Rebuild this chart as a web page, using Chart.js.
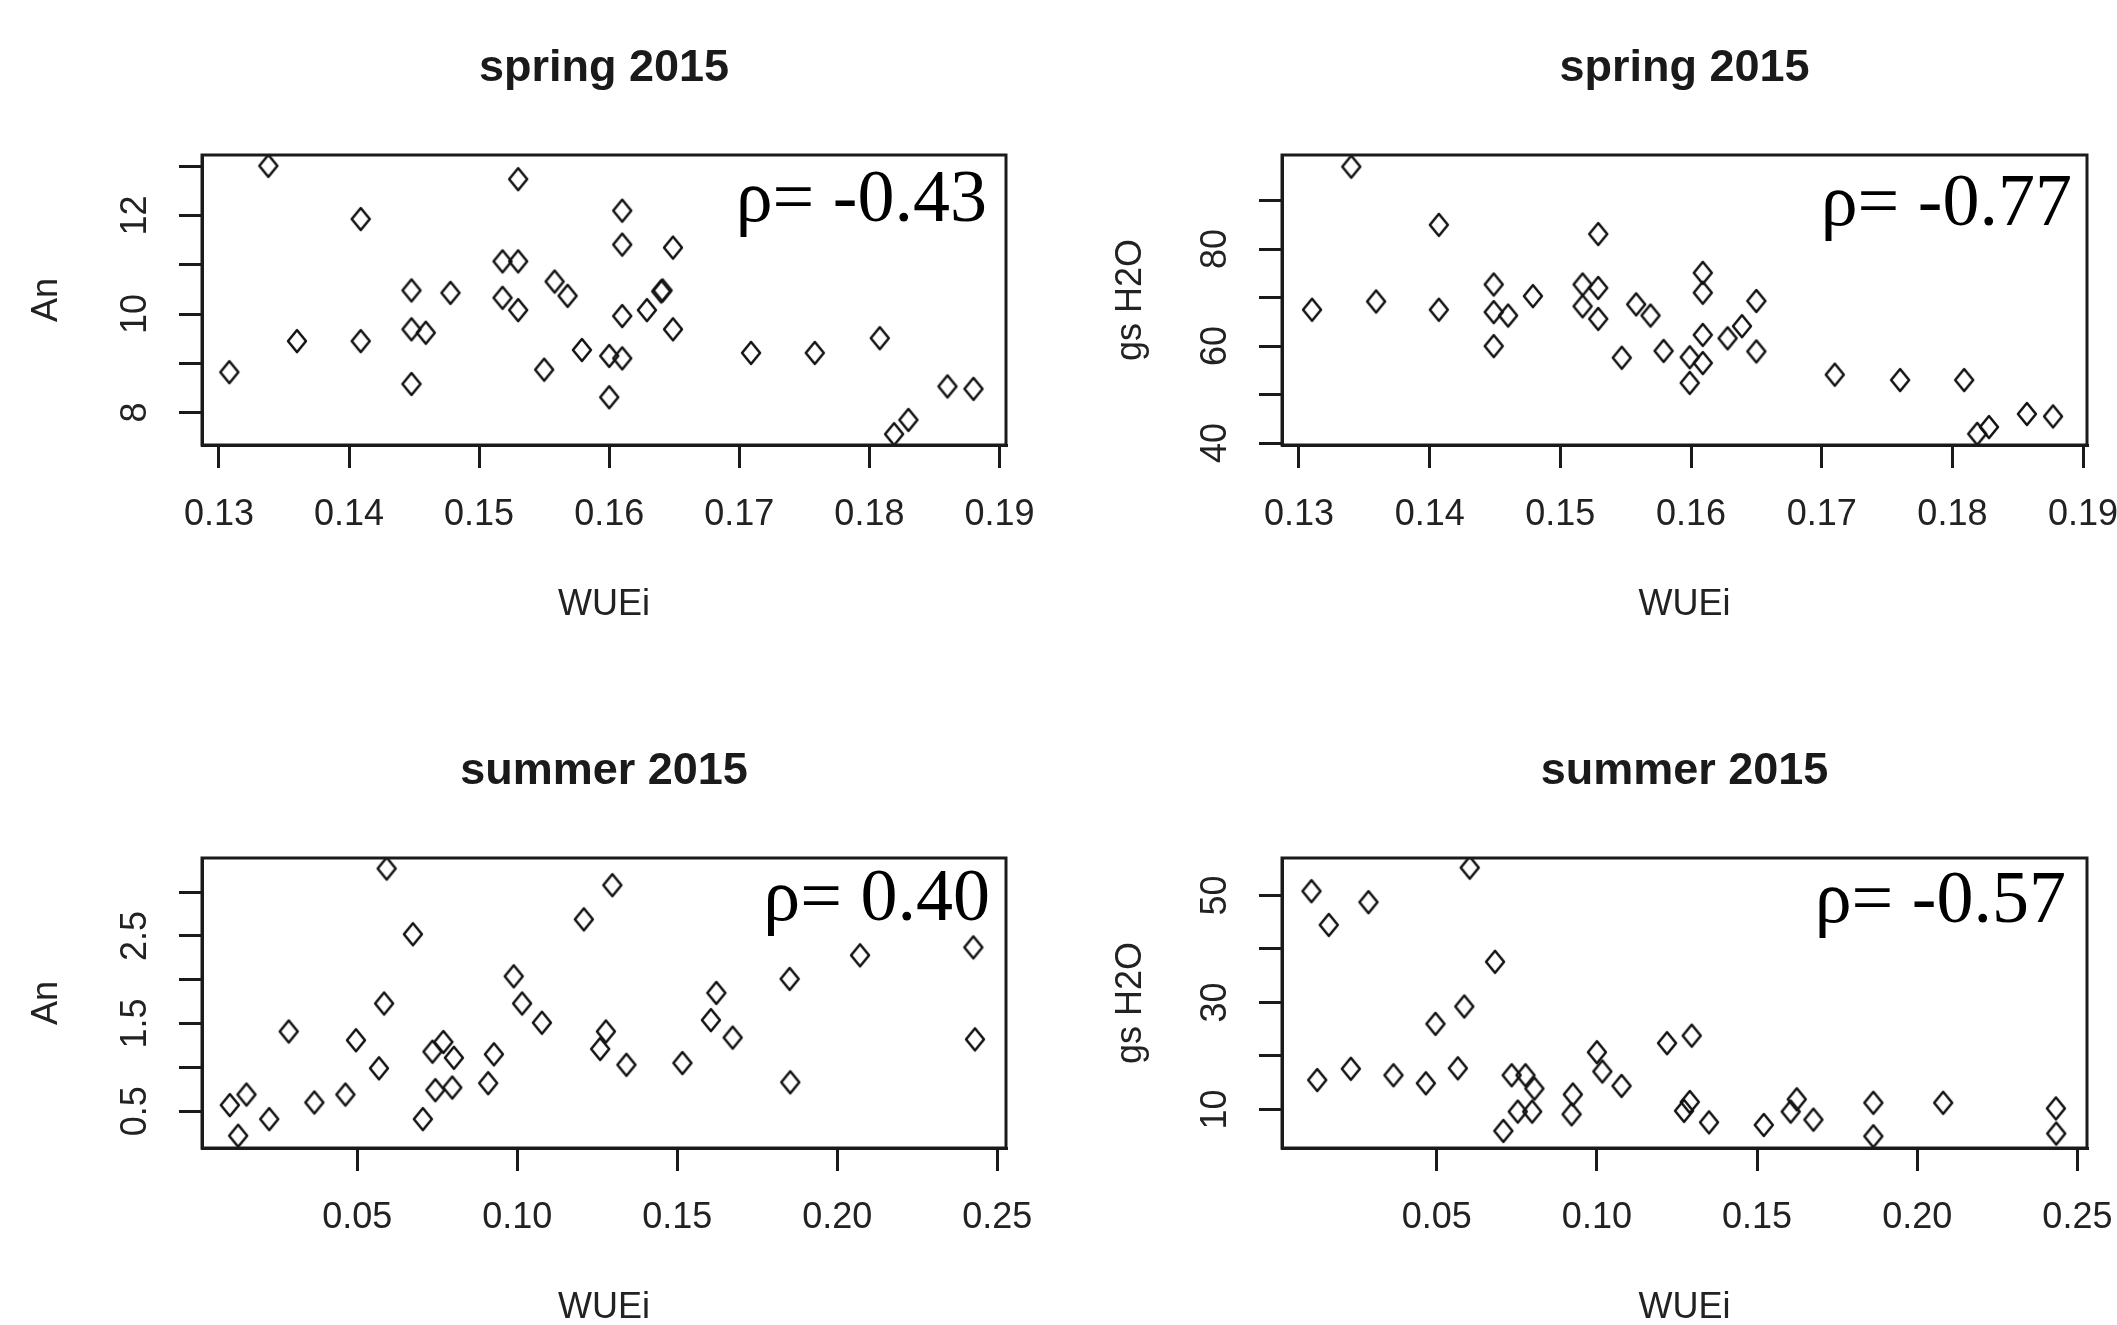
<!DOCTYPE html>
<html><head><meta charset="utf-8">
<script src="https://cdn.jsdelivr.net/npm/chart.js@4.4.0/dist/chart.umd.min.js"></script>
<style>
html,body{margin:0;padding:0;background:#fff;overflow:hidden;width:2117px;height:1325px;}
canvas{position:absolute;}
</style></head><body>
<canvas id="c1"></canvas><canvas id="c2"></canvas><canvas id="c3"></canvas><canvas id="c4"></canvas>
<script>
// ---- data ----
const springTitle = 'spring 2015';
const summerTitle = 'summer 2015';
const xTitle = 'WUEi';
const anTitle = 'An';
const gsTitle = 'gs H2O';

const springXTickLabels = ['0.13','0.14','0.15','0.16','0.17','0.18','0.19'];
const summerXTickLabels = ['0.05','0.10','0.15','0.20','0.25'];

const anSpringYTicks = [8,9,10,11,12,13];
const anSpringYLabels = ['8','','10','','12',''];
const gsSpringYTicks = [40,50,60,70,80,90];
const gsSpringYLabels = ['40','','60','','80',''];
const anSummerYTicks = [0.5,1.0,1.5,2.0,2.5,3.0];
const anSummerYLabels = ['0.5','','1.5','','2.5',''];
const gsSummerYTicks = [10,20,30,40,50];
const gsSummerYLabels = ['10','','30','','50'];

const rhoLabels = ['\u03c1= -0.43','\u03c1= -0.77','\u03c1= 0.40','\u03c1= -0.57'];

const springAnX = [0.1308,0.1338,0.1360,0.1409,0.1409,0.1448,0.1448,0.1459,0.1448,0.1478,0.1518,0.1530,0.1518,0.1530,0.1530,0.1558,0.1568,0.1550,0.1579,0.1600,0.1610,0.1600,0.1610,0.1610,0.1610,0.1629,0.1640,0.1641,0.1649,0.1649,0.1709,0.1758,0.1808,0.1819,0.1830,0.1860,0.1880];
const springAnY = [8.82,13.01,9.45,11.93,9.45,10.48,9.69,9.62,8.58,10.43,11.07,11.07,10.33,10.08,12.74,10.66,10.37,8.87,9.27,9.15,9.10,8.31,12.10,11.41,9.96,10.08,10.46,10.48,11.35,9.69,9.21,9.21,9.51,7.56,7.85,8.53,8.48];

const springGsX = [0.1310,0.1340,0.1359,0.1407,0.1407,0.1449,0.1449,0.1460,0.1449,0.1479,0.1517,0.1529,0.1517,0.1529,0.1529,0.1558,0.1569,0.1547,0.1579,0.1599,0.1609,0.1599,0.1609,0.1609,0.1609,0.1628,0.1639,0.1650,0.1650,0.1710,0.1760,0.1809,0.1819,0.1828,0.1857,0.1877];
const springGsY = [67.5,97.0,69.2,85.0,67.5,72.7,67.0,66.3,60.0,70.3,72.7,72.0,68.2,65.6,83.1,68.6,66.3,57.6,59.0,57.7,56.5,52.4,75.1,71.0,62.3,61.6,64.1,69.3,58.9,54.1,53.0,53.0,41.9,43.3,46.0,45.5];

const summerAnX = [0.0102,0.0154,0.0128,0.0225,0.0286,0.0366,0.0463,0.0496,0.0568,0.0584,0.0592,0.0674,0.0705,0.0735,0.0769,0.0744,0.0797,0.0802,0.0909,0.0927,0.0989,0.1015,0.1077,0.1208,0.1297,0.1277,0.1259,0.1341,0.1516,0.1605,0.1622,0.1673,0.1851,0.1853,0.2071,0.2425,0.2430];
const summerAnY = [0.57,0.69,0.22,0.41,1.41,0.60,0.69,1.31,0.99,1.73,3.27,2.52,0.41,1.18,1.29,0.74,0.77,1.11,0.82,1.15,2.04,1.73,1.51,2.69,3.08,1.41,1.21,1.03,1.05,1.54,1.85,1.34,2.01,0.83,2.28,2.37,1.32];

const summerGsX = [0.0109,0.0163,0.0127,0.0232,0.0287,0.0365,0.0466,0.0496,0.0566,0.0586,0.0603,0.0682,0.0708,0.0734,0.0777,0.0805,0.0753,0.0798,0.0921,0.0925,0.1000,0.1017,0.1077,0.1219,0.1296,0.1290,0.1272,0.1350,0.1521,0.1605,0.1624,0.1676,0.1863,0.1863,0.2081,0.2433,0.2434];
const summerGsY = [50.8,44.5,15.5,17.6,48.75,16.4,14.9,26.0,17.7,29.25,55.2,37.6,6.0,16.4,16.4,13.9,9.6,9.6,9.1,12.8,20.7,17.1,14.4,22.4,23.8,11.4,9.75,7.6,7.1,9.6,11.9,8.1,11.25,5.0,11.25,10.2,5.5];

// ---- layout / style ----
const INK = '#1a1a1a';
const SANS = '"Liberation Sans", Arial, sans-serif';
const SERIF = '"Liberation Serif", "Times New Roman", serif';
const TICK_FONT = 36;
const AXIS_LEFT = 202, PAD_TOP = 155, PAD_RIGHT = 70, XAXIS_H = 182;

const measure = document.createElement('canvas').getContext('2d');
measure.font = TICK_FONT + 'px ' + SANS;

// marker: open diamond, slightly taller than wide, rounded joins
const marker = document.createElement('canvas');
marker.width = 24; marker.height = 28;
(function () {
  const m = marker.getContext('2d');
  m.strokeStyle = '#111';
  m.lineWidth = 2.5;
  m.lineJoin = 'round';
  m.beginPath();
  m.moveTo(12, 3); m.lineTo(21, 14); m.lineTo(12, 25); m.lineTo(3, 14); m.closePath();
  m.stroke();
})();

const panels = [
  {id:'c1', box:{l:202,t:155,r:1006,b:445}, xs:springAnX, ys:springAnY, xr:[0.1287,0.1905], yr:[7.34,13.23],
   xLabels:springXTickLabels, yTicks:anSpringYTicks, yLabels:anSpringYLabels, title:springTitle, yTitle:anTitle, yTitleCenter:47,
   rho:rhoLabels[0], rhoDx:19, rhoDy:66},
  {id:'c2', box:{l:1282,t:155,r:2087,b:445}, xs:springGsX, ys:springGsY, xr:[0.1287,0.1903], yr:[39.6,99.4],
   xLabels:springXTickLabels, yTicks:gsSpringYTicks, yLabels:gsSpringYLabels, title:springTitle, yTitle:gsTitle, yTitleCenter:51,
   rho:rhoLabels[1], rhoDx:15, rhoDy:70},
  {id:'c3', box:{l:202,t:858,r:1006,b:1148}, xs:summerAnX, ys:summerAnY, xr:[0.0015,0.2527], yr:[0.08,3.39],
   xLabels:summerXTickLabels, yTicks:anSummerYTicks, yLabels:anSummerYLabels, title:summerTitle, yTitle:anTitle, yTitleCenter:47,
   rho:rhoLabels[2], rhoDx:16, rhoDy:62},
  {id:'c4', box:{l:1282,t:858,r:2087,b:1148}, xs:summerGsX, ys:summerGsY, xr:[0.0017,0.2530], yr:[2.8,57.0],
   xLabels:summerXTickLabels, yTicks:gsSummerYTicks, yLabels:gsSummerYLabels, title:summerTitle, yTitle:gsTitle, yTitleCenter:51,
   rho:rhoLabels[3], rhoDx:21, rhoDy:64}
];

const decorPlugin = {
  id: 'decor',
  afterDraw(chart, args, opts) {
    const {ctx, chartArea: a} = chart;
    ctx.save();
    ctx.strokeStyle = INK;
    ctx.lineWidth = 3;
    ctx.strokeRect(a.left, a.top, a.right - a.left, a.bottom - a.top);
    ctx.fillStyle = INK;
    ctx.textBaseline = 'alphabetic';
    ctx.textAlign = 'center';
    ctx.font = 'bold 45px ' + SANS;
    ctx.fillText(opts.title, (a.left + a.right) / 2, a.top - 74);
    ctx.fillStyle = '#000';
    ctx.textAlign = 'right';
    ctx.font = '74px ' + SERIF;
    ctx.fillText(opts.rho, a.right - opts.rhoDx, a.top + opts.rhoDy);
    ctx.restore();
  }
};

panels.forEach(p => {
  const cv = document.getElementById(p.id);
  const W = p.box.r - p.box.l + AXIS_LEFT + PAD_RIGHT;
  const H = p.box.b - p.box.t + PAD_TOP + XAXIS_H;
  cv.width = W; cv.height = H;
  cv.style.left = (p.box.l - AXIS_LEFT) + 'px';
  cv.style.top = (p.box.t - PAD_TOP) + 'px';
  cv.style.width = W + 'px'; cv.style.height = H + 'px';

  const xVals = p.xLabels.map(Number);
  const widest = Math.max(...p.yLabels.map(s => measure.measureText(s).width));
  const yPad = 43 - widest / 2;

  new Chart(cv, {
    type: 'scatter',
    data: {
      datasets: [{
        data: p.xs.map((x, i) => ({x: x, y: p.ys[i]})),
        pointStyle: marker,
        pointRadius: 10,
        pointHoverRadius: 10,
        borderColor: '#111',
        backgroundColor: 'rgba(0,0,0,0)'
      }]
    },
    options: {
      responsive: false,
      animation: false,
      events: [],
      layout: {padding: {left: 0, top: PAD_TOP, right: PAD_RIGHT, bottom: 0}},
      plugins: {
        legend: {display: false},
        tooltip: {enabled: false},
        decor: {title: p.title, rho: p.rho, rhoDx: p.rhoDx, rhoDy: p.rhoDy}
      },
      scales: {
        x: {
          type: 'linear', position: 'bottom', min: p.xr[0], max: p.xr[1],
          afterBuildTicks: s => { s.ticks = xVals.map(v => ({value: v})); },
          afterFit: s => { s.height = XAXIS_H; },
          grid: {drawOnChartArea: false, drawTicks: true, tickLength: 23, tickWidth: 3, tickColor: INK, color: INK, lineWidth: 3},
          border: {display: true, color: INK, width: 3},
          ticks: {
            autoSkip: false, maxRotation: 0, minRotation: 0, padding: 25, color: '#222',
            font: {family: SANS, size: TICK_FONT, lineHeight: 1.2},
            callback: (v, i) => p.xLabels[i]
          },
          title: {display: true, text: xTitle, color: '#222', padding: {top: 0, bottom: 0},
                  font: {family: SANS, size: 36, lineHeight: 1.2}}
        },
        y: {
          type: 'linear', position: 'left', min: p.yr[0], max: p.yr[1],
          afterBuildTicks: s => { s.ticks = p.yTicks.map(v => ({value: v})); },
          afterFit: s => { s.width = AXIS_LEFT; },
          grid: {drawOnChartArea: false, drawTicks: true, tickLength: 23, tickWidth: 3, tickColor: INK, color: INK, lineWidth: 3},
          border: {display: true, color: INK, width: 3},
          ticks: {
            autoSkip: false, minRotation: 90, maxRotation: 90, crossAlign: 'center', padding: yPad, color: '#222',
            font: {family: SANS, size: TICK_FONT, lineHeight: 1.2},
            callback: (v, i) => p.yLabels[i]
          },
          title: {display: true, text: p.yTitle, color: '#222', padding: {top: p.yTitleCenter - 21.6, bottom: 0},
                  font: {family: SANS, size: 36, lineHeight: 1.2}}
        }
      }
    },
    plugins: [decorPlugin]
  });
});
</script>
</body></html>
